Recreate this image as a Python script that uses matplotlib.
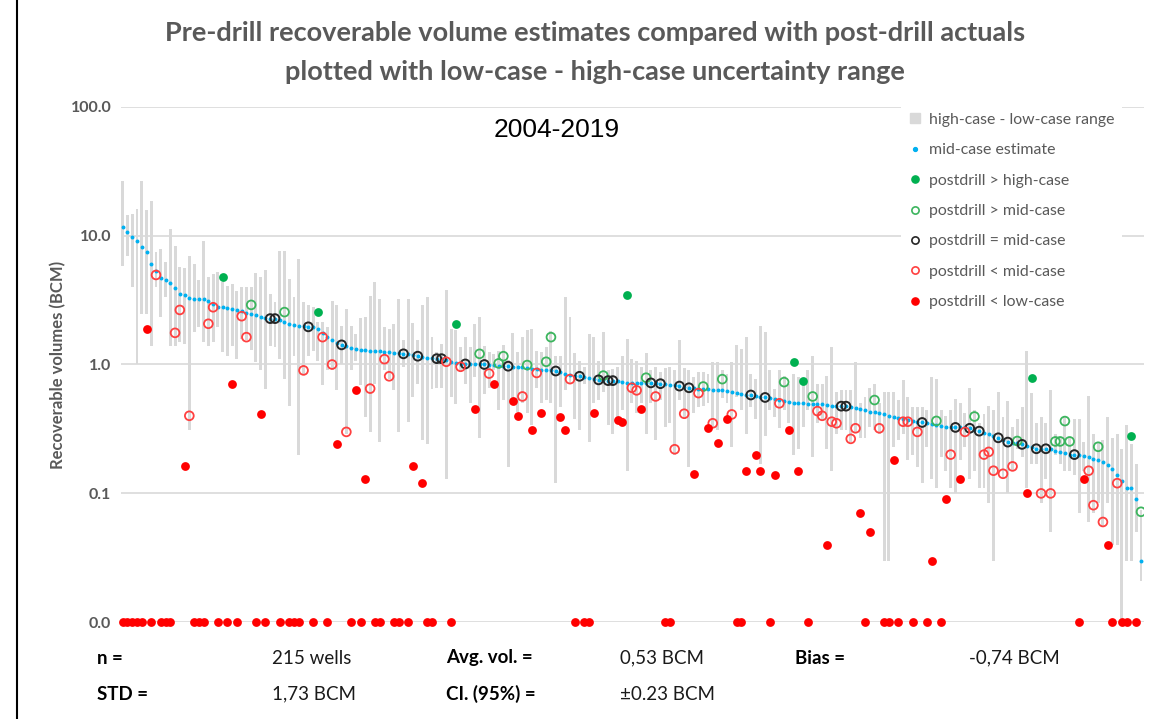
import numpy as np
import matplotlib.pyplot as plt
from matplotlib.lines import Line2D

# Mid-case estimate per well (BCM), sorted high to low
mid_case = [
    11.7, 10.7, 9.8, 9.1, 8.2, 7.4, 6.0, 5.3, 4.7, 4.5,
    4.3, 3.9, 3.55, 3.44, 3.3, 3.25, 3.2, 3.2, 3.1, 2.95,
    2.8, 2.77, 2.75, 2.7, 2.65, 2.6, 2.5, 2.45, 2.4, 2.35,
    2.3, 2.27, 2.27, 2.2, 2.14, 2.05, 2.02, 2.0, 1.98, 1.96,
    1.94, 1.9, 1.75, 1.64, 1.55, 1.48, 1.42, 1.38, 1.34, 1.31,
    1.29, 1.29, 1.28, 1.28, 1.27, 1.25, 1.24, 1.23, 1.22, 1.21,
    1.2, 1.18, 1.16, 1.14, 1.13, 1.12, 1.11, 1.11, 1.08, 1.05,
    1.02, 1.01, 1.01, 1.0, 1.0, 1.0, 1.0, 0.99, 0.99, 0.98,
    0.97, 0.97, 0.96, 0.95, 0.95, 0.94, 0.93, 0.92, 0.91, 0.9,
    0.9, 0.89, 0.87, 0.85, 0.83, 0.82, 0.81, 0.8, 0.78, 0.77,
    0.76, 0.755, 0.75, 0.75, 0.74, 0.73, 0.72, 0.72, 0.72, 0.72,
    0.72, 0.72, 0.715, 0.71, 0.7, 0.69, 0.69, 0.68, 0.67, 0.66,
    0.66, 0.65, 0.645, 0.64, 0.635, 0.63, 0.63, 0.62, 0.61, 0.6,
    0.59, 0.585, 0.58, 0.57, 0.56, 0.555, 0.55, 0.54, 0.53, 0.52,
    0.51, 0.5, 0.5, 0.5, 0.495, 0.49, 0.49, 0.49, 0.485, 0.48,
    0.48, 0.475, 0.475, 0.47, 0.46, 0.45, 0.44, 0.43, 0.425, 0.42,
    0.41, 0.4, 0.39, 0.385, 0.38, 0.37, 0.365, 0.36, 0.355, 0.35,
    0.345, 0.34, 0.335, 0.33, 0.33, 0.325, 0.325, 0.325, 0.32, 0.31,
    0.304, 0.295, 0.29, 0.28, 0.27, 0.26, 0.25, 0.248, 0.245, 0.24,
    0.235, 0.23, 0.222, 0.222, 0.222, 0.22, 0.215, 0.21, 0.205, 0.2,
    0.2, 0.2, 0.195, 0.19, 0.185, 0.18, 0.175, 0.165, 0.155, 0.139,
    0.125, 0.11, 0.11, 0.09, 0.03,
]

high_case = [
    26.7, 14.5, 14.7, 16.1, 26.7, 15.8, 18.5, 7.4, 7.9, 6.2,
    11.3, 8.3, 5.7, 5.6, 7.0, 6.0, 4.5, 9.0, 4.8, 5.0,
    5.2, 4.35, 4.1, 4.2, 3.7, 4.0, 4.0, 4.0, 5.1, 4.75,
    5.4, 3.5, 3.05, 7.6, 7.6, 4.6, 3.33, 6.6, 3.05, 2.87,
    2.78, 2.13, 2.13, 1.95, 3.13, 2.87, 2.0, 2.7, 2.0, 1.73,
    2.28, 2.35, 3.43, 4.4, 3.23, 1.95, 1.89, 2.06, 3.23, 1.54,
    3.23, 2.09, 1.54, 2.9, 3.33, 1.63, 1.24, 1.45, 3.8, 1.89,
    1.84, 1.36, 1.63, 1.36, 2.06, 2.33, 1.39, 1.24, 1.21, 1.28,
    1.41, 1.08, 1.77, 1.24, 1.63, 1.85, 1.89, 1.28, 1.24, 1.36,
    1.83, 1.17, 1.17, 3.33, 2.33, 1.23, 1.07, 0.95, 1.73, 1.63,
    1.07, 1.8, 0.9, 0.93, 0.95, 1.17, 1.58, 1.1, 1.07, 0.95,
    1.23, 0.9, 0.95, 0.87, 0.94, 0.95, 0.9, 1.54, 0.94, 0.9,
    0.8, 0.87, 0.87, 0.84, 1.04, 1.04, 0.9, 0.85, 1.04, 1.41,
    1.32, 1.63, 0.85, 0.77, 2.0, 1.8, 0.9, 0.65, 0.91, 0.82,
    0.71, 0.85, 0.8, 0.71, 0.9, 1.17, 0.71, 0.71, 0.81, 1.36,
    0.61, 0.63, 0.63, 0.63, 1.04, 0.5, 0.56, 0.66, 0.71, 0.5,
    0.61, 0.61, 0.61, 0.53, 0.76, 0.56, 0.47, 0.47, 0.47, 0.44,
    0.8, 0.77, 0.44, 0.4, 0.44, 0.54, 0.5, 0.42, 0.66, 0.44,
    0.35, 0.41, 0.48, 0.44, 0.61, 0.39, 0.52, 0.33, 0.38, 0.47,
    1.28, 0.6, 0.35, 0.39, 0.35, 0.63, 0.29, 0.27, 0.4, 0.27,
    0.38, 0.38, 0.25, 0.57, 0.29, 0.25, 0.26, 0.39, 0.27, 0.29,
    0.22, 0.34, 0.24, 0.17, 0.075,
]

low_case = [
    5.85, 7.0, 3.97, 1.0, 2.47, 2.47, 1.39, 4.0, 2.33, 3.33,
    1.39, 1.4, 1.49, 1.45, 0.31, 1.8, 1.95, 1.49, 1.4, 1.49,
    1.95, 1.25, 1.17, 1.4, 1.1, 1.58, 1.55, 1.3, 1.04, 0.91,
    0.65, 1.4, 1.37, 1.1, 0.77, 0.48, 1.17, 0.2, 0.85, 1.17,
    1.28, 1.07, 0.69, 0.9, 0.9, 0.63, 1.0, 0.29, 0.9, 1.07,
    0.69, 0.39, 0.3, 0.71, 0.25, 0.9, 0.77, 0.63, 0.3, 0.95,
    0.36, 0.56, 0.71, 0.26, 0.24, 0.65, 0.66, 0.66, 0.13, 0.56,
    0.49, 0.87, 0.71, 0.5, 0.8, 0.27, 0.59, 0.66, 0.9, 0.44,
    0.53, 0.16, 0.55, 0.43, 0.5, 0.42, 0.34, 0.66, 0.5, 0.53,
    0.5, 0.12, 0.47, 0.63, 0.71, 0.38, 0.31, 0.71, 0.25, 0.5,
    0.53, 0.61, 0.34, 0.29, 0.39, 0.44, 0.15, 0.5, 0.42, 0.5,
    0.29, 0.5, 0.26, 0.53, 0.33, 0.35, 0.2, 0.53, 0.38, 0.16,
    0.42, 0.47, 0.48, 0.5, 0.33, 0.31, 0.55, 0.5, 0.23, 0.56,
    0.44, 0.29, 0.47, 0.38, 0.17, 0.28, 0.44, 0.39, 0.32, 0.44,
    0.35, 0.2, 0.22, 0.33, 0.44, 0.19, 0.35, 0.37, 0.22, 0.15,
    0.29, 0.31, 0.31, 0.25, 0.3, 0.27, 0.27, 0.33, 0.31, 0.29,
    0.03, 0.03, 0.23, 0.26, 0.29, 0.18, 0.2, 0.16, 0.12, 0.23,
    0.13, 0.11, 0.19, 0.15, 0.11, 0.1, 0.18, 0.23, 0.13, 0.15,
    0.11, 0.11, 0.084, 0.03, 0.15, 0.13, 0.1, 0.15, 0.22, 0.19,
    0.11, 0.17, 0.17, 0.084, 0.13, 0.05, 0.2, 0.17, 0.15, 0.15,
    0.14, 0.07, 0.15, 0.06, 0.07, 0.084, 0.055, 0.084, 0.04, 0.04,
    0.01, 0.03, 0.03, 0.05, 0.021,
]

# Post-drill actual volume (0 = dry well, nan = not reported)
nan = np.nan
post_drill = [
    0, 0, 0, 0, 0, 1.89, 0, 4.95, 0, 0,
    0, 1.76, 2.65, 0.162, 0.40, 0, 0, 0, 2.07, 2.78,
    0, 4.75, 0, 0.71, 0, 2.37, 1.63, 2.9, 0, 0.41,
    0, 2.27, 2.27, 0, 2.55, 0, 0, 0, 0.90, 1.96,
    0, 2.55, 1.63, 0, 1.0, 0.243, 1.42, 0.30, 0, 0.63,
    0, 0.129, 0.65, 0, 0, 1.1, 0.81, 0, 0, 1.21,
    0, 0.162, 1.16, 0.12, 0, 0, 1.11, 1.11, 1.05, 0,
    2.07, 0.96, 1.01, nan, 0.45, 1.21, 1.0, 0.85, 0.70, 1.02,
    1.16, 0.97, 0.52, 0.395, 0.565, 0.99, 0.31, 0.86, 0.42, 1.05,
    1.63, 0.89, 0.39, 0.31, 0.77, 0, 0.81, 0, 0, 0.42,
    0.76, 0.82, 0.75, 0.75, 0.37, 0.36, 3.47, 0.66, 0.63, 0.45,
    0.79, 0.72, 0.565, 0.71, 0, 0, 0.22, 0.68, 0.415, 0.66,
    0.142, 0.6, 0.675, 0.32, 0.35, 0.247, 0.77, 0.38, 0.41, 0,
    0, 0.15, 0.58, 0.2, 0.15, 0.555, 0, 0.14, 0.5, 0.73,
    0.31, 1.05, 0.15, 0.74, 0, 0.565, 0.435, 0.4, 0.04, 0.36,
    0.35, 0.475, 0.475, 0.265, 0.32, 0.07, 0, 0.05, 0.53, 0.32,
    0, 0, 0.18, 0, 0.36, 0.36, 0, 0.30, 0.355, 0,
    0.03, 0.365, 0, 0.09, 0.2, 0.325, 0.129, 0.3, 0.32, 0.395,
    0.304, 0.2, 0.21, 0.15, 0.27, 0.142, 0.25, 0.162, 0.255, 0.24,
    0.1, 0.79, 0.222, 0.1, 0.222, 0.1, 0.253, 0.253, 0.364, 0.253,
    0.2, 0, 0.129, 0.15, 0.081, 0.23, 0.06, 0.04, 0, 0.12,
    0, 0, 0.28, 0, 0.072,
]

stats_labels = [["n =", "Avg. vol. =", "Bias ="], ["STD =", "CI. (95%) ="]]
stats_values = [["215 wells", "0,53 BCM", "-0,74 BCM"], ["1,73 BCM", "±0.23 BCM"]]

mid = np.array(mid_case)
high = np.array(high_case)
low = np.array(low_case)
post = np.array(post_drill, dtype=float)
x = np.arange(len(mid))
floor = 0.01  # "0.0" line on the log axis

ok = ~np.isnan(post)
eq = ok & np.isclose(post, mid)
above_high = ok & (post > high)
above_mid = ok & (post > mid) & ~eq & ~above_high
below_low = ok & (post < low)
below_mid = ok & (post < mid) & ~eq & ~below_low
post_plot = np.where(post <= 0, floor, post)

grey_txt = '#595959'
c_bar = '#d9d9d9'
c_blue = '#00b0f0'
c_green = '#00b050'
c_green2 = '#3cb55e'
c_red = '#ff0000'
c_red2 = '#ff4040'
c_black = '#262626'

fig = plt.figure(figsize=(11.75, 7.19), dpi=100)
ax = fig.add_axes([121 / 1175, 1 - 622.3 / 719, 1023 / 1175, 515.6 / 719])

ax.bar(x, high - low, bottom=low, width=0.62, color=c_bar, zorder=2)
ax.scatter(x, mid, s=8, color=c_blue, zorder=3, linewidths=0)

ms = 40
ax.scatter(x[above_high], post_plot[above_high], s=ms, color=c_green, zorder=4, linewidths=0, clip_on=False)
ax.scatter(x[above_mid], post_plot[above_mid], s=ms, facecolors='none', edgecolors=c_green2, linewidths=1.3, zorder=4)
ax.scatter(x[eq], post_plot[eq], s=ms, facecolors='none', edgecolors=c_black, linewidths=1.4, zorder=4)
ax.scatter(x[below_mid], post_plot[below_mid], s=ms, facecolors='none', edgecolors=c_red2, linewidths=1.3, zorder=4)
ax.scatter(x[below_low], post_plot[below_low], s=ms, color=c_red, zorder=4, linewidths=0, clip_on=False)

ax.set_yscale('log')
ax.set_ylim(0.01, 100)
ax.set_xlim(-0.36, 214.63)
ax.set_yticks([0.01, 0.1, 1, 10, 100])
ax.set_yticklabels(['0.0', '0.1', '1.0', '10.0', '100.0'])
ax.minorticks_off()
ax.set_xticks([])
ax.tick_params(axis='y', length=0, pad=7, labelsize=11.5, labelcolor=grey_txt)
for t in ax.get_yticklabels():
    t.set_fontweight('bold')
    t.set_fontfamily('Lato')
ax.grid(axis='y', color='#d9d9d9', linewidth=1.2, zorder=0)
ax.set_axisbelow(True)
for s in ax.spines.values():
    s.set_visible(False)

ax.set_ylabel('Recoverable volumes (BCM)', fontsize=12, fontweight='bold', color=grey_txt, family='Lato')
ax.yaxis.set_label_coords(-(121 - 66) / 1023, 0.5)

fig.text(595 / 1175, 1 - 33 / 719, 'Pre-drill recoverable volume estimates compared with post-drill actuals',
         ha='center', va='center', fontsize=19.5, fontweight='bold', color=grey_txt, family='Lato')
fig.text(595 / 1175, 1 - 72 / 719, 'plotted with low-case - high-case uncertainty range',
         ha='center', va='center', fontsize=19.5, fontweight='bold', color=grey_txt, family='Lato')
fig.text(557 / 1175, 1 - 130 / 719, '2004-2019', ha='center', va='center', fontsize=19,
         color='black', family='Liberation Sans')

handles = [
    Line2D([], [], marker='s', color=c_bar, linestyle='none', markersize=7.5),
    Line2D([], [], marker='o', color=c_blue, linestyle='none', markersize=2.8),
    Line2D([], [], marker='o', color=c_green, linestyle='none', markersize=5.2),
    Line2D([], [], marker='o', markerfacecolor='none', markeredgecolor=c_green2, linestyle='none',
           markersize=5.2, markeredgewidth=1.2),
    Line2D([], [], marker='o', markerfacecolor='none', markeredgecolor=c_black, linestyle='none',
           markersize=5.2, markeredgewidth=1.2),
    Line2D([], [], marker='o', markerfacecolor='none', markeredgecolor=c_red2, linestyle='none',
           markersize=5.2, markeredgewidth=1.2),
    Line2D([], [], marker='o', color=c_red, linestyle='none', markersize=5.2),
]
labels = ['high-case - low-case range', 'mid-case estimate', 'postdrill > high-case',
          'postdrill > mid-case', 'postdrill = mid-case', 'postdrill < mid-case', 'postdrill < low-case']
leg = fig.legend(handles, labels, loc='upper left', bbox_to_anchor=(893 / 1175, 1 - 97 / 719),
                 frameon=True, facecolor='white', edgecolor='none', framealpha=1,
                 prop={'family': 'Lato', 'size': 11.4}, labelspacing=1.03, handlelength=0.8,
                 handletextpad=0.45, borderpad=0.5, fancybox=False)
for t in leg.get_texts():
    t.set_color(grey_txt)

label_x = [97, 446, 795]
value_x = [272, 620, 969]
row_y = [658, 694]
for r in range(2):
    for c in range(len(stats_labels[r])):
        fig.text(label_x[c] / 1175, 1 - row_y[r] / 719, stats_labels[r][c], ha='left', va='center',
                 fontsize=13.5, fontweight='bold', color='black', family='Lato')
        fig.text(value_x[c] / 1175, 1 - row_y[r] / 719, stats_values[r][c], ha='left', va='center',
                 fontsize=13.5, color='#1a1a1a', family='Lato')

fig.add_artist(Line2D([17 / 1175, 17 / 1175], [0, 1], color='black', linewidth=1.5))

fig.savefig('out.png', dpi=100)
